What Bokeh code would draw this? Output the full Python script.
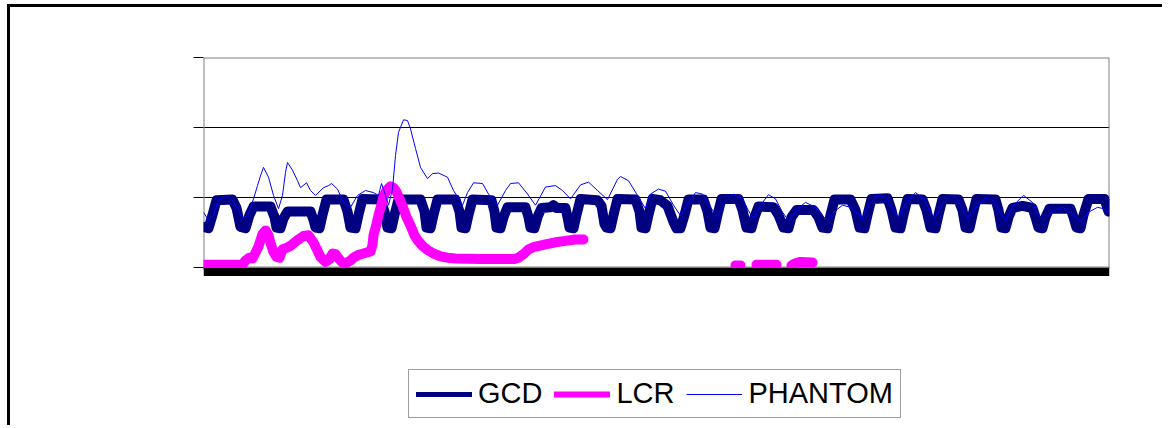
from bokeh.plotting import figure
from bokeh.models import Range1d, FixedTicker, Legend, LegendItem, ColumnDataSource, BoxAnnotation
from bokeh.embed import file_html
from bokeh.resources import INLINE

NaN = float("nan")

# sample index (0..905) and values
gcd_x = [0, 5, 9, 13, 29, 33, 37, 42, 46, 50, 67, 71, 73, 77, 80, 84, 107, 110, 112, 116,
         119, 123, 140, 144, 147, 152, 155, 159, 177, 181, 184, 188, 191, 195, 217, 221, 223, 227,
         230, 234, 252, 256, 258, 262, 265, 269, 288, 291, 293, 297, 300, 304, 322, 325, 327, 331,
         334, 338, 347, 350, 353, 362, 364, 366, 370, 373, 377, 394, 398, 401, 403, 407, 410, 414,
         432, 436, 438, 442, 445, 449, 457, 464, 470, 473, 477, 481, 485, 500, 504, 507, 511, 514,
         518, 535, 539, 543, 548, 551, 555, 570, 575, 580, 585, 588, 593, 610, 615, 619, 624, 627,
         631, 647, 652, 656, 661, 664, 668, 684, 688, 692, 697, 700, 704, 719, 723, 727, 732, 735,
         739, 755, 759, 762, 766, 769, 773, 792, 795, 798, 802, 805, 809, 819, 829, 832, 835, 839,
         842, 846, 867, 870, 873, 877, 880, 885, 901, 905]
gcd_y = [0.58, 0.56, 0.75, 0.96, 0.97, 0.85, 0.58, 0.56, 0.75, 0.87, 0.87, 0.72, 0.57, 0.56, 0.70, 0.80, 0.80, 0.68, 0.57, 0.56,
         0.75, 0.97, 0.97, 0.80, 0.57, 0.56, 0.75, 0.98, 0.97, 0.80, 0.57, 0.56, 0.75, 0.97, 0.97, 0.80, 0.57, 0.56,
         0.75, 0.97, 0.97, 0.80, 0.57, 0.56, 0.75, 0.97, 0.96, 0.80, 0.57, 0.56, 0.72, 0.86, 0.86, 0.72, 0.57, 0.56,
         0.72, 0.85, 0.86, 0.89, 0.85, 0.85, 0.72, 0.57, 0.56, 0.75, 0.98, 0.96, 0.88, 0.62, 0.57, 0.56, 0.75, 0.98,
         0.97, 0.80, 0.57, 0.56, 0.75, 0.98, 0.96, 0.88, 0.65, 0.56, 0.56, 0.75, 0.97, 0.97, 0.80, 0.57, 0.56, 0.75,
         0.98, 0.98, 0.82, 0.57, 0.56, 0.72, 0.87, 0.86, 0.75, 0.57, 0.56, 0.72, 0.82, 0.82, 0.72, 0.57, 0.56, 0.75,
         0.97, 0.97, 0.82, 0.57, 0.56, 0.75, 0.98, 0.99, 0.82, 0.57, 0.56, 0.75, 0.98, 0.97, 0.82, 0.57, 0.56, 0.75,
         0.98, 0.97, 0.82, 0.57, 0.56, 0.75, 0.98, 0.97, 0.82, 0.57, 0.56, 0.72, 0.85, 0.88, 0.85, 0.72, 0.57, 0.56,
         0.72, 0.84, 0.84, 0.72, 0.57, 0.56, 0.75, 0.98, 0.98, 0.80]

lcr_x = [0, 39, 42, 46, 49, 53, 55, 59, 62, 65, 67, 70, 73, 76, 79, 83, 87, 93, 100, 105,
         110, 114, 117, 122, 126, 129, 132, 135, 139, 142, 147, 150, 155, 160, 167, 169, 170, 173, 175, 178,
         180, 183, 187, 190, 193, 196, 199, 203, 207, 211, 214, 219, 224, 230, 237, 244, 252, 277, 310, 315,
         320, 325, 330, 342, 352, 362, 372, 380, 381,
         532, 537, 538,
         553, 573, 574,
         588, 592, 597, 609]
lcr_y = [0.04, 0.04, 0.10, 0.14, 0.13, 0.24, 0.30, 0.48, 0.53, 0.46, 0.35, 0.22, 0.15, 0.14, 0.26, 0.28, 0.31, 0.38, 0.45, 0.46,
         0.36, 0.24, 0.15, 0.08, 0.12, 0.20, 0.19, 0.13, 0.07, 0.06, 0.10, 0.14, 0.18, 0.20, 0.23, 0.32, 0.46, 0.62, 0.75, 0.90,
         1.02, 1.10, 1.16, 1.14, 1.08, 0.98, 0.88, 0.72, 0.60, 0.46, 0.39, 0.31, 0.25, 0.20, 0.16, 0.14, 0.13, 0.12, 0.12, 0.14,
         0.19, 0.26, 0.29, 0.33, 0.36, 0.38, 0.40, 0.40, NaN,
         0.03, 0.03, NaN,
         0.04, 0.04, NaN,
         0.03, 0.06, 0.08, 0.07]

phantom_x = [0, 5, 10, 15, 22, 29, 34, 39, 44, 50, 54, 57, 60, 65, 70, 75, 79, 82, 84, 89,
             94, 97, 103, 107, 112, 120, 125, 128, 134, 140, 147, 154, 162, 170, 175, 178, 181, 185, 189, 192,
             195, 200, 204, 207, 212, 217, 224, 229, 235, 244, 250, 259, 264, 270, 279, 285, 294, 302, 307, 315,
             324, 332, 342, 352, 359, 367, 377, 385, 394, 404, 414, 417, 425, 434, 442, 447, 455, 462, 470, 477,
             484, 492, 499, 507, 514, 522, 530, 539, 545, 550, 557, 565, 572, 579, 585, 594, 602, 612, 619, 624,
             630, 639, 647, 654, 659, 665, 675, 684, 690, 695, 702, 712, 720, 727, 731, 739, 747, 752, 757, 764,
             772, 782, 790, 797, 802, 810, 820, 829, 835, 840, 849, 859, 867, 877, 885, 894, 900, 905]
phantom_y = [0.79, 0.67, 0.76, 0.96, 1.03, 0.96, 0.84, 0.70, 0.74, 0.98, 1.17, 1.31, 1.43, 1.29, 1.03, 0.84, 1.03, 1.36, 1.50, 1.39,
             1.24, 1.14, 1.21, 1.10, 1.03, 1.14, 1.17, 1.20, 1.12, 0.93, 0.86, 1.03, 1.10, 1.07, 1.03, 1.20, 1.08, 0.89, 1.12, 1.60,
             1.93, 2.11, 2.10, 1.98, 1.70, 1.43, 1.27, 1.34, 1.35, 1.29, 1.10, 0.89, 1.07, 1.21, 1.20, 1.05, 0.89, 1.10, 1.20, 1.21,
             1.05, 0.89, 1.15, 1.17, 1.10, 0.98, 1.18, 1.22, 1.10, 0.97, 1.26, 1.30, 1.24, 1.03, 0.84, 1.05, 1.12, 1.09, 0.89, 0.74,
             0.91, 1.07, 1.05, 0.86, 0.72, 0.93, 1.05, 0.98, 0.81, 0.70, 0.89, 1.04, 0.98, 0.79, 0.67, 0.84, 0.93, 0.86, 0.74, 0.67,
             0.79, 0.89, 0.86, 0.77, 0.70, 0.89, 1.04, 0.98, 0.81, 0.71, 0.91, 1.07, 0.98, 0.79, 0.70, 0.91, 1.03, 1.00, 0.89, 0.70,
             0.86, 0.99, 0.96, 0.77, 0.67, 0.89, 1.03, 0.93, 0.74, 0.67, 0.81, 0.86, 0.79, 0.65, 0.79, 0.86, 0.84, 0.79]

y_ticks = [0, 1, 2, 3]
series_names = ["GCD", "LCR", "PHANTOM"]
series_colors = ["#000080", "#FF00FF", "#0000FF"]

N_SAMPLES = 906
PX_PER_UNIT = 70          # vertical scale of the plot area
W, H = 1155, 421
TOP, LEFT = 50, 193
RIGHT = W - LEFT - N_SAMPLES

# frame extends down to the canvas bottom so that the legend (drawn in the frame) is not clipped
y_bottom = y_ticks[-1] - (H - TOP) / PX_PER_UNIT

p = figure(width=W, height=H, x_range=Range1d(0, N_SAMPLES), y_range=Range1d(y_bottom, y_ticks[-1]),
           x_axis_type=None,
           output_backend="svg", toolbar_location=None,
           min_border_left=LEFT, min_border_right=RIGHT, min_border_top=TOP, min_border_bottom=0,
           background_fill_color="white", border_fill_color="white",
           styles={"border-left": "3px solid black", "border-top": "3px solid black",
                   "margin-left": "7px", "margin-top": "4px"})

p.outline_line_color = None

p.xgrid.grid_line_color = None
p.ygrid.ticker = FixedTicker(ticks=y_ticks)
p.ygrid.grid_line_color = "black"
p.ygrid.grid_line_width = 1

p.yaxis.ticker = FixedTicker(ticks=y_ticks)
p.yaxis.axis_line_color = None
p.yaxis.major_tick_line_color = "black"
p.yaxis.major_tick_out = 10
p.yaxis.major_tick_in = 0
p.yaxis.minor_tick_line_color = None
p.yaxis.major_label_text_color = None

p.line(gcd_x, gcd_y, line_color=series_colors[0], line_width=10, line_join="round", line_cap="round")
p.line(lcr_x, lcr_y, line_color=series_colors[1], line_width=10, line_join="round", line_cap="round")
p.line(phantom_x, phantom_y, line_color=series_colors[2], line_width=1)

# plot-area border (gray) and the thick black category-axis bar
p.add_layout(BoxAnnotation(left=0, right=N_SAMPLES, bottom=y_ticks[0], top=y_ticks[-1],
                           fill_color=None, fill_alpha=0, line_color="#808080", line_alpha=1,
                           line_width=2, level="underlay"))
p.add_layout(BoxAnnotation(left=0, right=N_SAMPLES, top=y_ticks[0] - 0.5 / PX_PER_UNIT,
                           bottom=y_ticks[0] - 8.5 / PX_PER_UNIT,
                           fill_color="black", fill_alpha=1, line_color=None))

# legend swatches (thinner, as in the reference legend); they draw nothing in the plot
def swatch():
    return ColumnDataSource(dict(x=[NaN], y=[NaN]))
lg1 = p.line("x", "y", source=swatch(), line_color=series_colors[0], line_width=5, line_cap="round")
lg2 = p.line("x", "y", source=swatch(), line_color=series_colors[1], line_width=6, line_cap="round")
lg3 = p.line("x", "y", source=swatch(), line_color=series_colors[2], line_width=1)

legend = Legend(items=[LegendItem(label=series_names[0], renderers=[lg1]),
                       LegendItem(label=series_names[1], renderers=[lg2]),
                       LegendItem(label=series_names[2], renderers=[lg3])],
                orientation="horizontal", location=(205, 10))
legend.label_text_font = "Liberation Sans"
legend.label_text_font_size = "29px"
legend.label_text_color = "black"
legend.glyph_width = 56
legend.glyph_height = 20
legend.label_standoff = 6
legend.spacing = 12
legend.padding = 7
legend.margin = 0
legend.border_line_color = "#404040"
legend.border_line_width = 1
legend.background_fill_color = "white"
legend.background_fill_alpha = 1
p.add_layout(legend, "center")

open("out.html", "w").write(file_html(p, INLINE))
